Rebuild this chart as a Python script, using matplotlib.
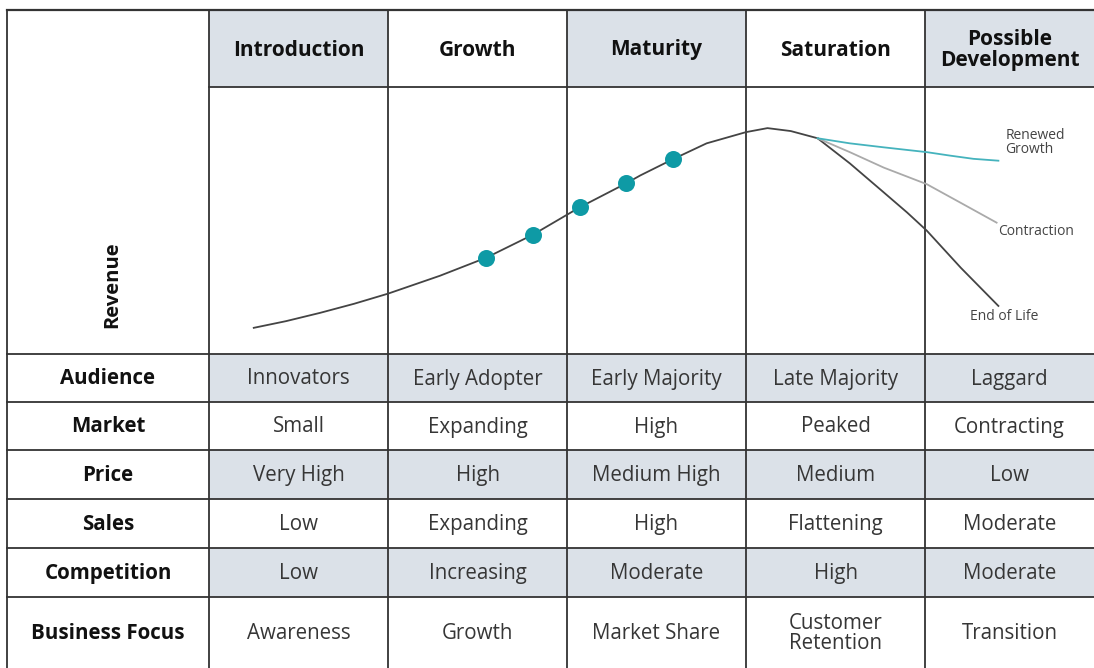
import numpy as np
import matplotlib.pyplot as plt
from matplotlib.patches import Rectangle

plt.rcParams['font.family'] = ['Open Sans', 'DejaVu Sans']

stages = ['Introduction', 'Growth', 'Maturity', 'Saturation', 'Possible\nDevelopment']
row_labels = ['Audience', 'Market', 'Price', 'Sales', 'Competition', 'Business Focus']
cells = [
    ['Innovators', 'Early Adopter', 'Early Majority', 'Late Majority', 'Laggard'],
    ['Small', 'Expanding', 'High', 'Peaked', 'Contracting'],
    ['Very High', 'High', 'Medium High', 'Medium', 'Low'],
    ['Low', 'Expanding', 'High', 'Flattening', 'Moderate'],
    ['Low', 'Increasing', 'Moderate', 'High', 'Moderate'],
    ['Awareness', 'Growth', 'Market Share', 'Customer\nRetention', 'Transition'],
]

# revenue curve (x in stage units, y revenue index)
curve_x = [0.25, 0.43, 0.62, 0.81, 1.00, 1.29, 1.55, 1.81, 2.07, 2.33, 2.41,
           2.59, 2.78, 3.00, 3.12, 3.25, 3.40]
curve_y = [9.8, 12.3, 15.4, 18.8, 22.6, 29.3, 36.1, 44.7, 54.9, 63.9, 66.9,
           72.9, 78.9, 83.1, 84.6, 83.5, 80.8]
dots_x = [1.55, 1.81, 2.07, 2.33, 2.59]
dots_y = [36.1, 44.7, 54.9, 63.9, 72.9]
eol_x = [3.40, 3.58, 3.77, 3.90, 4.01, 4.20, 4.41]
eol_y = [80.8, 71.4, 60.5, 53.0, 46.2, 32.3, 18.0]
contr_x = [3.40, 3.58, 3.77, 4.01, 4.20, 4.40]
contr_y = [80.8, 75.6, 69.8, 63.6, 56.6, 49.2]
renew_x = [3.40, 3.58, 3.77, 4.01, 4.14, 4.27, 4.41]
renew_y = [80.8, 78.9, 77.4, 75.6, 74.3, 73.1, 72.4]

W, H = 1094, 668
fig = plt.figure(figsize=(W / 100, H / 100), dpi=100)
ax = fig.add_axes([0, 0, 1, 1])
ax.set_xlim(0, W)
ax.set_ylim(H, 0)
ax.axis('off')

col_x = [7, 209, 388, 567, 746, 925, 1094]
row_y = [10, 87, 354, 402, 450, 499, 548, 597, 668]
shade = '#dbe1e8'
line_c = '#333333'

# header shading
for j in [0, 2, 4]:
    ax.add_patch(Rectangle((col_x[j + 1], row_y[0]), col_x[j + 2] - col_x[j + 1],
                           row_y[1] - row_y[0], color=shade, lw=0))
# body row shading
for i in [0, 2, 4]:
    ax.add_patch(Rectangle((col_x[1], row_y[i + 2]), col_x[-1] - col_x[1],
                           row_y[i + 3] - row_y[i + 2], color=shade, lw=0))

# grid lines
for x in col_x[:-1]:
    ax.plot([x, x], [row_y[0], H], color=line_c, lw=1.3)
ax.plot([col_x[0], W], [row_y[0], row_y[0]], color=line_c, lw=1.6)
ax.plot([col_x[1], W], [row_y[1], row_y[1]], color=line_c, lw=1.3)
for y in row_y[2:-1]:
    ax.plot([col_x[0], W], [y, y], color=line_c, lw=1.3)

# header text
for j, s in enumerate(stages):
    cx = (col_x[j + 1] + col_x[j + 2]) / 2
    ax.text(cx, (row_y[0] + row_y[1]) / 2 + 1.5, s, ha='center', va='center',
            fontsize=15, fontweight='bold', color='#111111', linespacing=0.95)

# body text
for i, lab in enumerate(row_labels):
    cy = (row_y[i + 2] + row_y[i + 3]) / 2 + 1
    ax.text((col_x[0] + col_x[1]) / 2, cy, lab, ha='center', va='center',
            fontsize=14.8, fontweight='bold', color='#111111')
    for j, v in enumerate(cells[i]):
        cx = (col_x[j + 1] + col_x[j + 2]) / 2
        ax.text(cx, cy, v, ha='center', va='center', fontsize=14.8,
                color='#363636', linespacing=0.9)

ax.text(112, 285, 'Revenue', rotation=90, ha='center', va='center',
        fontsize=14.5, fontweight='bold', color='#111111')

# chart area, one x unit per stage column
cax = fig.add_axes([col_x[1] / W, 1 - row_y[2] / H, (W - col_x[1]) / W,
                    (row_y[2] - row_y[1]) / H])
cax.set_xlim(0, (W - col_x[1]) / (col_x[2] - col_x[1]))
cax.set_ylim(0, 100)
cax.axis('off')
cax.plot(curve_x, curve_y, color='#444444', lw=1.3, solid_joinstyle='round')
cax.plot(eol_x, eol_y, color='#444444', lw=1.3, solid_joinstyle='round')
cax.plot(contr_x, contr_y, color='#aaaaaa', lw=1.3, solid_joinstyle='round')
cax.plot(renew_x, renew_y, color='#45b3bd', lw=1.3, solid_joinstyle='round')
cax.scatter(dots_x, dots_y, s=150, color='#0e9aa5', zorder=3, lw=0)

cax.text(4.45, 79.3, 'Renewed\nGrowth', fontsize=10, color='#444444',
         ha='left', va='center', linespacing=0.95)
cax.text(4.41, 45.9, 'Contraction', fontsize=10, color='#444444',
         ha='left', va='center')
cax.text(4.25, 13.9, 'End of Life', fontsize=10, color='#444444',
         ha='left', va='center')

fig.savefig('out.png', dpi=100)
